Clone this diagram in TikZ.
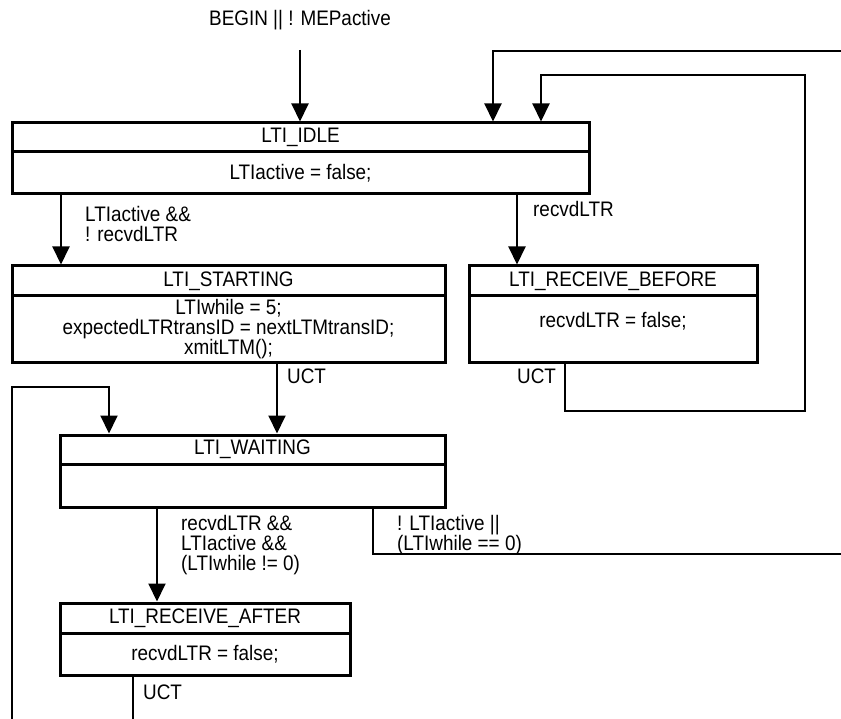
\documentclass[tikz,border=0pt]{standalone}
\usepackage{fontspec}
\setmainfont{Liberation Sans}[FakeStretch=0.9]
\usetikzlibrary{arrows.meta}
\begin{document}
\begin{tikzpicture}[x=1pt,y=-1pt,
  every node/.style={font=\fontsize{21}{20}\selectfont},
  box/.style={draw,line width=3pt,inner sep=0pt,anchor=center},
  conn/.style={line width=2pt},
  arr/.style={conn,-{Triangle[length=18pt,width=17pt]}},
  lbl/.style={inner sep=0pt,anchor=north west,align=left}]
\useasboundingbox[fill=white] (0,0) rectangle (841,719);
% states
\node[box,minimum width=577pt,minimum height=29pt] (idle) at (300.5,137.5) {LTI\_IDLE};
\node[box,minimum width=577pt,minimum height=42pt] (idleb) at (300.5,173) {LTIactive = false;};
\node[box,minimum width=433pt,minimum height=30pt] (st) at (228.5,281) {LTI\_STARTING};
\node[box,minimum width=433pt,minimum height=67pt,align=center] (stb) at (228.5,329.5) {LTIwhile = 5;\\expectedLTRtransID = nextLTMtransID;\\xmitLTM();};
\node[box,minimum width=288pt,minimum height=30pt] (rb) at (613,281) {LTI\_RECEIVE\_BEFORE};
\node[box,minimum width=288pt,minimum height=67pt] (rbb) at (613,329.5) {};
\node[inner sep=0pt] (rbt) at (613,321) {recvdLTR = false;};
\node[box,minimum width=385pt,minimum height=29pt] (wt) at (252.5,449.5) {LTI\_WAITING};
\node[box,minimum width=385pt,minimum height=43pt] (wtb) at (252.5,485.5) {};
\node[box,minimum width=290pt,minimum height=30pt] (ra) at (205,618) {LTI\_RECEIVE\_AFTER};
\node[box,minimum width=290pt,minimum height=42pt] (rab) at (205,654) {recvdLTR = false;};
% begin
\node[inner sep=0pt] (begin) at (300,20) {BEGIN || ! MEPactive};
% bend coordinates
\coordinate (bs) at (300,50);
\coordinate (e1) at (845,51);
\coordinate (t1) at (493,51);
\coordinate (k1) at (565,411);
\coordinate (k2) at (805,411);
\coordinate (k3) at (805,75);
\coordinate (k4) at (541,75);
\coordinate (a1) at (61,200);
\coordinate (a2) at (517,200);
\coordinate (a3) at (277,400);
\coordinate (l0) at (12,725);
\coordinate (l1) at (12,387);
\coordinate (l2) at (109,387);
\coordinate (a4) at (157,550);
\coordinate (m1) at (373,554);
\coordinate (m2) at (845,554);
\coordinate (u1) at (133,725);
% connectors
\draw[arr] (bs) -- (bs |- idle.north);
\draw[arr] (e1) -- (t1) -- (t1 |- idle.north);
\draw[arr] (k1 |- rbb.south) -- (k1) -- (k2) -- (k3) -- (k4) -- (k4 |- idle.north);
\draw[arr] (idleb.south -| a1) -- (st.north -| a1);
\draw[arr] (idleb.south -| a2) -- (rb.north -| a2);
\draw[arr] (stb.south -| a3) -- (wt.north -| a3);
\draw[arr] (l0) -- (l1) -- (l2) -- (l2 |- wt.north);
\draw[arr] (wtb.south -| a4) -- (ra.north -| a4);
\draw[conn] (wtb.south -| m1) -- (m1) -- (m2);
\draw[conn] (rab.south -| u1) -- (u1);
% labels
\node[lbl] (g1) at (85,206) {LTIactive \&\&\\! recvdLTR};
\node[lbl] (g2) at (533,201) {recvdLTR};
\node[lbl] (g3) at (287,369) {UCT};
\node[lbl] (g4) at (517,369) {UCT};
\node[lbl] (g5) at (181,515) {recvdLTR \&\&\\LTIactive \&\&\\(LTIwhile != 0)};
\node[lbl] (g6) at (397,515) {! LTIactive ||\\(LTIwhile == 0)};
\node[lbl] (g7) at (143,685) {UCT};
\end{tikzpicture}
\end{document}
